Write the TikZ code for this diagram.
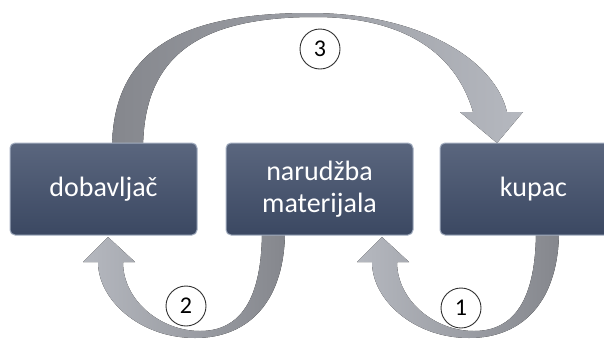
\documentclass[tikz,border=0pt]{standalone}
\usepackage{fontspec}
\setmainfont{Carlito}
\usepackage{tikz}
\usetikzlibrary{calc}
\definecolor{boxtop}{HTML}{5A667E}
\definecolor{boxbot}{HTML}{3B4862}
\definecolor{boxrim}{HTML}{A3AEC0}
\definecolor{darkflow}{HTML}{85878D}
\definecolor{lightflow}{HTML}{B5B8BF}
\definecolor{ring}{HTML}{303030}
\tikzset{
  block/.style={rectangle, rounded corners=5pt, draw=boxrim, line width=1pt,
    top color=boxtop, bottom color=boxbot, text=white, align=center,
    minimum width=187pt, minimum height=92pt,
    font=\fontsize{28}{32}\selectfont},
  num/.style={circle, draw=ring, fill=white, line width=0.9pt, minimum size=40pt,
    inner sep=0pt, font=\fontsize{24}{24}\selectfont},
  flowdark/.style={left color=darkflow, right color=lightflow},
  flowlight/.style={left color=lightflow, right color=darkflow}
}

\begin{document}
\begin{tikzpicture}[x=1pt,y=-1pt]
  \useasboundingbox (0,0) rectangle (604,338);

  % arrow 3: dobavljac -> kupac (over the top)
  \fill[flowdark] (112,150) .. controls (112,50) and (180,13) .. (310,13)
    .. controls (420,13) and (495,60) .. (507,112)
    -- (523,112) -- (497,143) -- (460,112) -- (473,112)
    .. controls (455,50) and (400,17) .. (315,17)
    .. controls (200,17) and (143,55) .. (143,150) -- cycle;

  % arrows 2 and 1: under the boxes
  \foreach \dx in {0,274}{
    \fill[flowlight, xshift=\dx] (285,230) .. controls (285,300) and (250,338) .. (195,338)
      .. controls (140,338) and (98,300) .. (98,262)
      -- (83,262) -- (108,237) -- (135,262) -- (123,262)
      .. controls (123,300) and (160,331) .. (200,331)
      .. controls (240,331) and (262,300) .. (262,230) -- cycle;
  }

  % boxes
  \node[block] (dob) at (103.5,189) {dobavljač};
  \node[block] (nar) at (319.5,189) {narudžba\\materijala};
  \node[block] (kup) at (533.5,189) {kupac};

  % step numbers
  \node[num] (n3) at (320,49) {3};
  \node[num] (n2) at (186,306) {2};
  \node[num] (n1) at (461,308) {1};
\end{tikzpicture}
\end{document}
